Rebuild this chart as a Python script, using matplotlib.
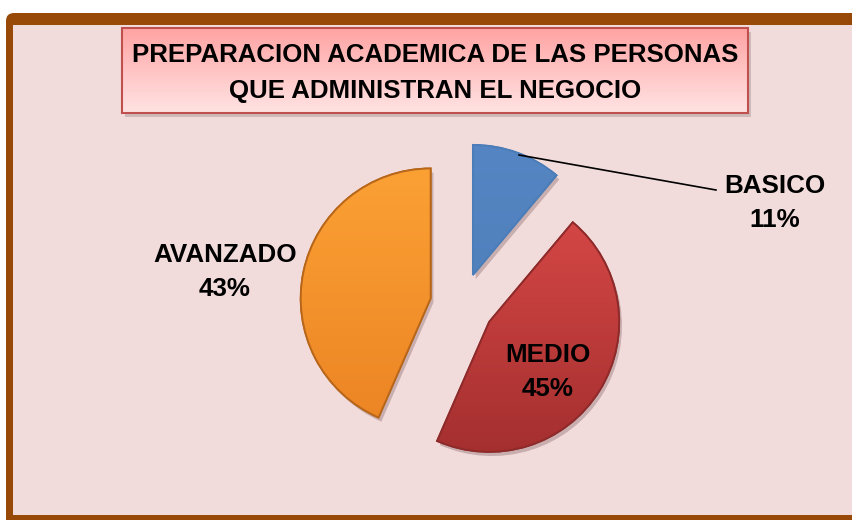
import matplotlib.pyplot as plt
import numpy as np
from matplotlib.patches import FancyBboxPatch, Rectangle, Wedge
from matplotlib.colors import LinearSegmentedColormap
import matplotlib.patheffects as pe

# data
categories = ["BASICO", "MEDIO", "AVANZADO"]
percentages = [11, 45, 43]
title = "PREPARACION ACADEMICA DE LAS PERSONAS\nQUE ADMINISTRAN EL NEGOCIO"

# style
top_colors = ["#5585C2", "#D94A48", "#FBA134"]
bottom_colors = ["#4B7DB8", "#A52F2F", "#EC8424"]
edge_colors = ["#4B7DB8", "#8E2A2A", "#B8661A"]
bg_pink = "#F2DCDB"
brown = "#984807"
font = ["Liberation Sans", "DejaVu Sans"]

W, H = 853, 520
fig = plt.figure(figsize=(W / 100, H / 100), dpi=100)
fig.patch.set_facecolor("white")
ax = fig.add_axes([0, 0, 1, 1])


def fy(y):
    # pixel row (from top) -> data y
    return H - y


def fit_text(txt, target_w):
    # scale the font so the widest line matches the target width in pixels
    renderer = fig.canvas.get_renderer()
    fs = txt.get_fontsize()
    w = txt.get_window_extent(renderer).width
    txt.set_fontsize(fs * target_w / w)


# frame: brown border and pink panel
ax.add_patch(FancyBboxPatch((6, fy(530)), 900, 517, boxstyle="round,pad=0,rounding_size=8",
                            facecolor=brown, edgecolor="none", zorder=0))
ax.add_patch(Rectangle((13, fy(515)), 900, 490, facecolor=bg_pink, edgecolor="none", zorder=1))

# title box with shadow and gradient
bx0, bx1, by0, by1 = 122, 748, 28, 113
ax.add_patch(Rectangle((bx0 + 3, fy(by1 + 4)), bx1 - bx0, by1 - by0, facecolor="#9a8888",
                       alpha=0.4, edgecolor="none", zorder=2))
box = Rectangle((bx0, fy(by1)), bx1 - bx0, by1 - by0, facecolor="none",
                edgecolor="#C0504D", linewidth=1.5, zorder=4)
ax.add_patch(box)
title_cmap = LinearSegmentedColormap.from_list("t", ["#FFE3E3", "#FFC4C4", "#FFA3A3"])
grad = np.linspace(0, 1, 100).reshape(-1, 1)
im = ax.imshow(grad, cmap=title_cmap, extent=[bx0, bx1, fy(by0), fy(by1)],
               aspect="auto", zorder=3, origin="upper")
im.set_clip_path(box)

t = ax.text((bx0 + bx1) / 2, fy(73), title, ha="center", va="center", fontsize=20,
            fontweight="bold", family=font, linespacing=1.6, zorder=5)
fit_text(t, 606)

# pie
cx, cy, r = 462, fy(305), 130
wedges, _ = ax.pie(percentages, startangle=90, counterclock=False, radius=r,
                   center=(cx, cy), explode=[32, 32, 32], colors=top_colors,
                   wedgeprops=dict(linewidth=1.2, zorder=6))
for w, c0, c1, ec in zip(wedges, top_colors, bottom_colors, edge_colors):
    w.set_edgecolor(ec)
    w.set_path_effects([pe.SimplePatchShadow(offset=(2, -3), shadow_rgbFace="#7a5a5a", alpha=0.35),
                        pe.Normal()])
    xs, ys = w.center
    cmap = LinearSegmentedColormap.from_list("w", [c0, c1])
    gim = ax.imshow(grad, cmap=cmap, extent=[xs - r, xs + r, ys + r, ys - r],
                    aspect="auto", zorder=7, origin="lower")
    gim.set_clip_path(w)
    # edge above gradient
    ax.add_patch(Wedge(w.center, r, w.theta1, w.theta2, facecolor="none",
                       edgecolor=ec, linewidth=1.4, zorder=8))

# labels
lab_kw = dict(ha="center", va="center", fontsize=16, fontweight="bold", family=font,
              linespacing=1.55, zorder=10)
lab_ba = ax.text(775, fy(203), f"{categories[0]}\n{percentages[0]}%", **lab_kw)
lab_me = ax.text(548, fy(372), f"{categories[1]}\n{percentages[1]}%", **lab_kw)
lab_av = ax.text(225, fy(272), f"{categories[2]}\n{percentages[2]}%", **lab_kw)
fit_text(lab_av, 144)
size = lab_av.get_fontsize()
lab_ba.set_fontsize(size)
lab_me.set_fontsize(size)
ax.plot([519, 716], [fy(155), fy(190)], color="black", linewidth=1.2, zorder=9)

ax.set_xlim(0, W)
ax.set_ylim(0, H)
ax.set_aspect("auto")
ax.set_axis_off()

fig.savefig("out.png", dpi=100, facecolor="white")
